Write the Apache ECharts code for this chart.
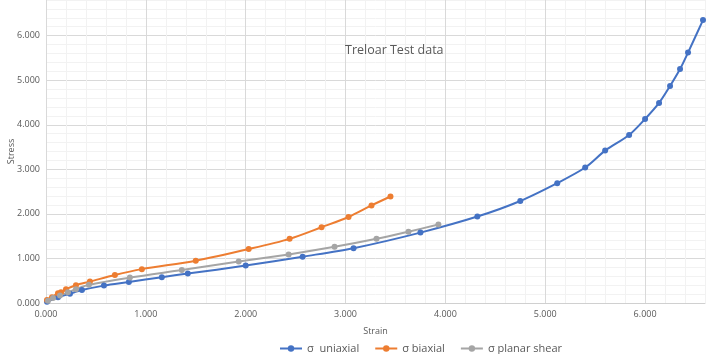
<!DOCTYPE html>
<html>
<head>
<meta charset="utf-8">
<script src="https://cdn.jsdelivr.net/npm/echarts@6/dist/echarts.min.js"></script>
<style>
  html, body { margin: 0; padding: 0; background: #fff; }
  #chart { width: 714px; height: 354px; }
</style>
</head>
<body>
<div id="chart"></div>
<script>
// strain / stress pairs
const uniaxialStrain = [0.01, 0.12, 0.24, 0.36, 0.58, 0.83, 1.16, 1.42, 2.00, 2.57, 3.08, 3.75, 4.32, 4.75, 5.12, 5.40, 5.60, 5.84, 6.00, 6.14, 6.25, 6.35, 6.43, 6.58]
const uniaxialStress = [0.03, 0.13, 0.21, 0.29, 0.39, 0.47, 0.58, 0.66, 0.84, 1.04, 1.23, 1.58, 1.94, 2.29, 2.69, 3.04, 3.42, 3.77, 4.13, 4.49, 4.87, 5.25, 5.62, 6.35]

const biaxialStrain = [0.01, 0.06, 0.12, 0.15, 0.20, 0.30, 0.44, 0.69, 0.96, 1.50, 2.03, 2.44, 2.76, 3.03, 3.26, 3.45]
const biaxialStress = [0.07, 0.13, 0.22, 0.24, 0.31, 0.40, 0.48, 0.63, 0.76, 0.95, 1.21, 1.44, 1.70, 1.93, 2.19, 2.39]

const shearStrain = [0.02, 0.07, 0.14, 0.22, 0.30, 0.43, 0.84, 1.36, 1.93, 2.43, 2.89, 3.31, 3.63, 3.93]
const shearStress = [0.05, 0.11, 0.17, 0.24, 0.31, 0.41, 0.57, 0.74, 0.93, 1.09, 1.26, 1.44, 1.60, 1.76]

const seriesNames = ['σ  uniaxial', 'σ biaxial', 'σ planar shear']
const seriesColors = ['#4472C4', '#ED7D31', '#A5A5A5']

function pairs (xs, ys) {
  return xs.map((x, i) => [x, ys[i]])
}

// major line every 1.0, minor every 0.2
const gridColors = ['#d9d9d9', '#f2f2f2', '#f2f2f2', '#f2f2f2', '#f2f2f2']

function wholeLabel (v) {
  return Math.abs(v - Math.round(v)) < 1e-6 ? v.toFixed(3) : ''
}

function makeSeries (name, color, data) {
  return {
    name: name,
    type: 'line',
    smooth: 0.3,
    symbol: 'circle',
    symbolSize: 6,
    data: data,
    lineStyle: { color: color, width: 2 },
    itemStyle: { color: color }
  }
}

const chart = echarts.init(document.getElementById('chart'))
chart.setOption({
  animation: false,
  title: {
    text: 'Treloar Test data',
    left: 340,
    top: 39,
    textStyle: {
      fontFamily: 'Open Sans',
      fontSize: 12.5,
      fontWeight: 'normal',
      color: '#595959'
    }
  },
  legend: {
    bottom: 0,
    left: 279,
    padding: [0, 0],
    itemWidth: 22,
    itemHeight: 8,
    itemGap: 15,
    textStyle: { fontFamily: 'Open Sans', fontSize: 11, color: '#595959' },
    data: seriesNames
  },
  grid: {
    left: 46,
    right: 9,
    top: 0,
    bottom: 51,
    containLabel: false,
    outerBoundsMode: 'none'
  },
  xAxis: {
    type: 'value',
    min: 0,
    max: 6.6,
    interval: 0.2,
    name: 'Strain',
    nameLocation: 'middle',
    nameGap: 24,
    nameMoveOverlap: false,
    nameTextStyle: { fontFamily: 'Open Sans', fontSize: 9, color: '#595959' },
    axisLine: { lineStyle: { color: '#d0d0d0', width: 1 } },
    axisTick: { show: false },
    axisLabel: {
      fontFamily: 'Open Sans',
      fontSize: 9,
      color: '#595959',
      margin: 7,
      showMaxLabel: false,
      hideOverlap: false,
      formatter: wholeLabel
    },
    splitLine: { lineStyle: { color: gridColors, width: 1 } }
  },
  yAxis: {
    type: 'value',
    min: 0,
    max: 6.8,
    interval: 0.2,
    name: 'Stress',
    nameLocation: 'middle',
    nameGap: 30,
    nameMoveOverlap: false,
    nameTextStyle: { fontFamily: 'Open Sans', fontSize: 9, color: '#595959' },
    axisLine: { show: true, lineStyle: { color: '#d9d9d9', width: 1 } },
    axisTick: { show: false },
    axisLabel: {
      fontFamily: 'Open Sans',
      fontSize: 9,
      color: '#595959',
      margin: 6,
      showMaxLabel: false,
      hideOverlap: false,
      formatter: wholeLabel
    },
    splitLine: { lineStyle: { color: gridColors, width: 1 } }
  },
  series: [
    makeSeries(seriesNames[0], seriesColors[0], pairs(uniaxialStrain, uniaxialStress)),
    makeSeries(seriesNames[1], seriesColors[1], pairs(biaxialStrain, biaxialStress)),
    makeSeries(seriesNames[2], seriesColors[2], pairs(shearStrain, shearStress))
  ]
})
</script>
</body>
</html>
